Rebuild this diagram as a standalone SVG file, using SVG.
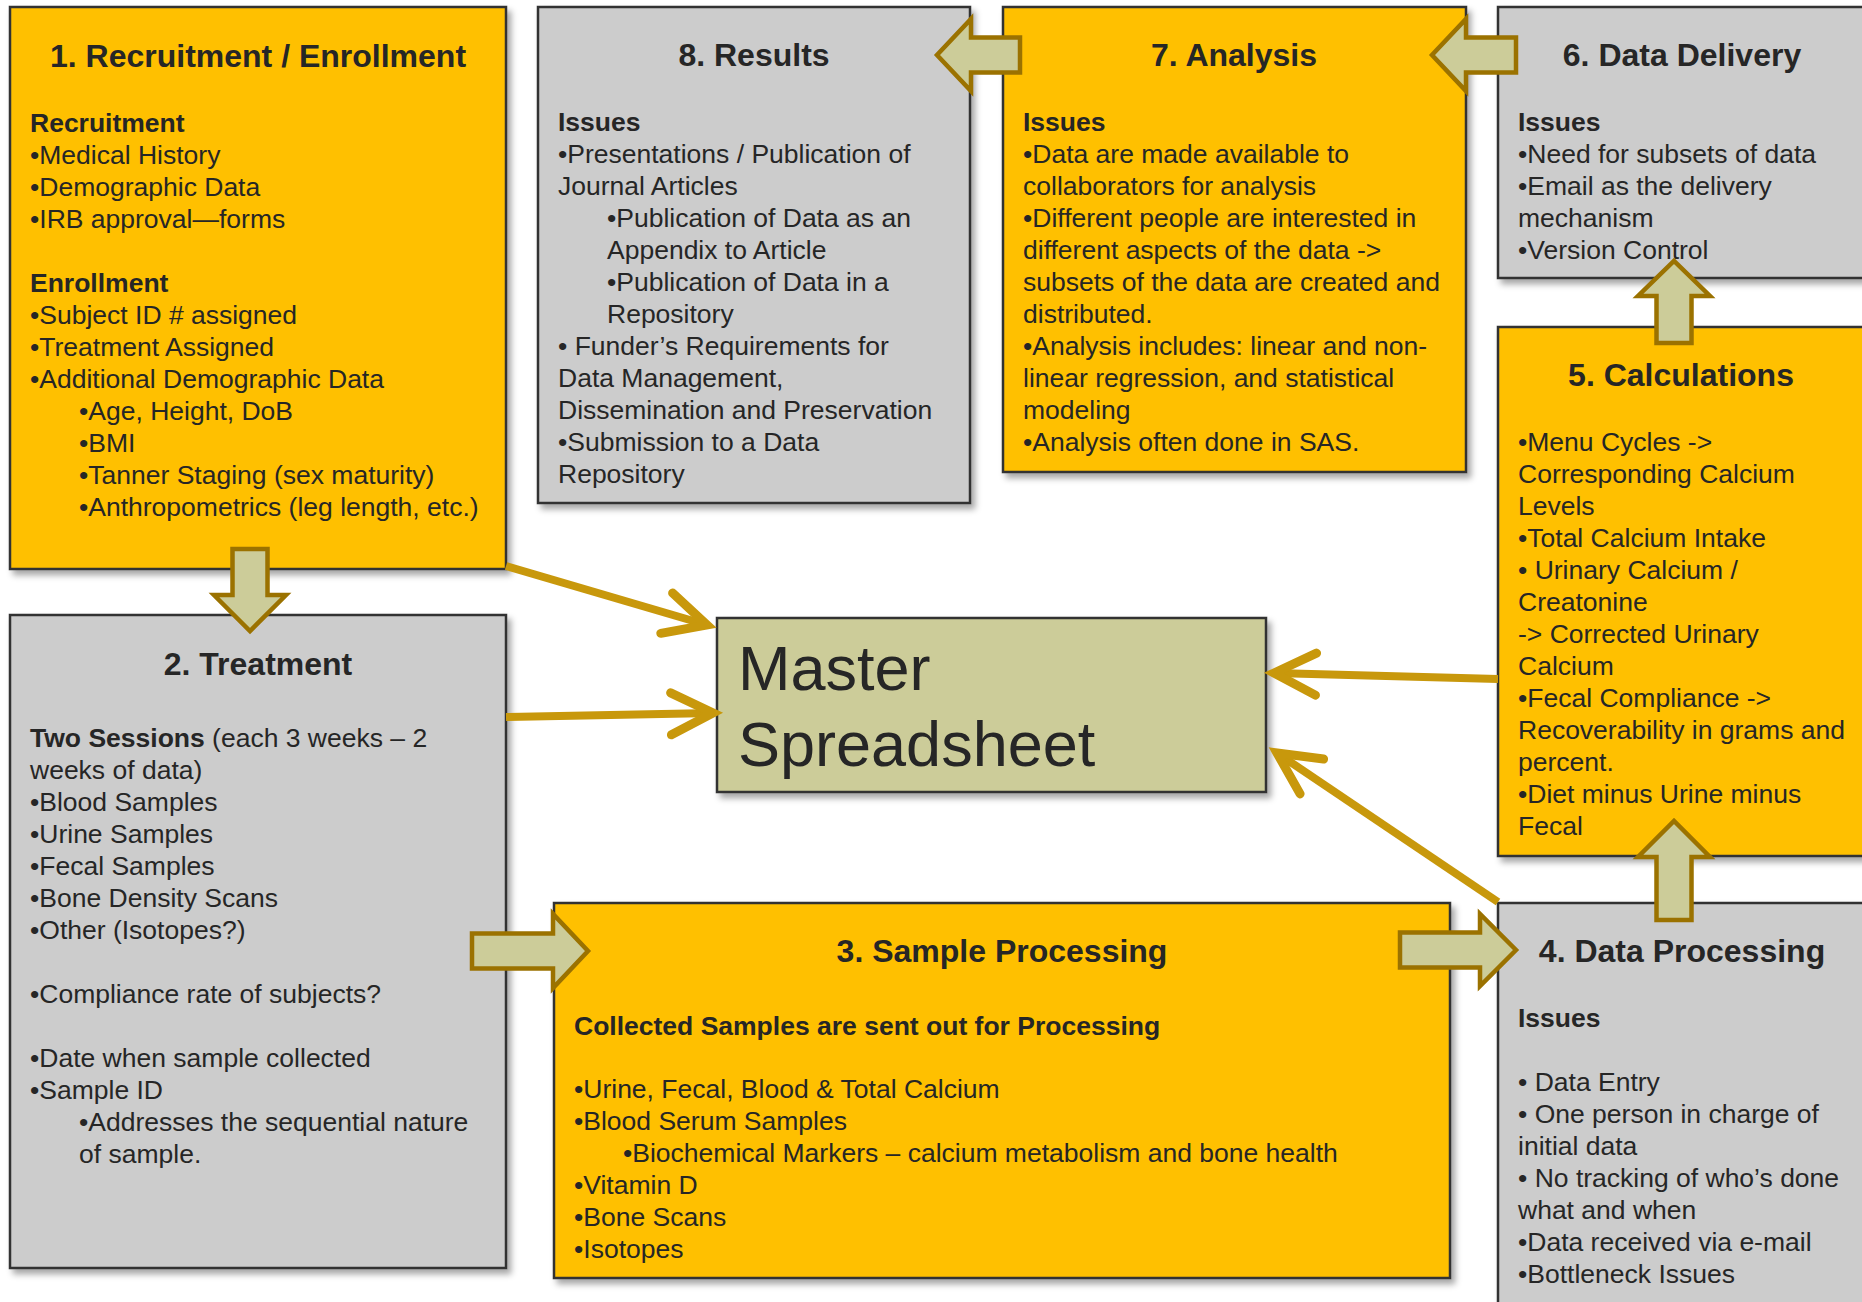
<svg xmlns="http://www.w3.org/2000/svg" width="1862" height="1302" viewBox="0 0 1862 1302">
<defs>
<filter id="sh" x="-5%" y="-5%" width="115%" height="115%">
<feDropShadow dx="4" dy="5" stdDeviation="3" flood-color="#000" flood-opacity="0.35"/>
</filter>
<marker id="chev" markerUnits="userSpaceOnUse" markerWidth="60" markerHeight="60" viewBox="-50 -30 60 60" refX="0" refY="0" orient="auto" overflow="visible">
<path d="M -42 -21 L 0 0 L -42 21" fill="none" stroke="#C8980C" stroke-width="9" stroke-linecap="round" stroke-linejoin="miter"/>
</marker>
</defs>
<style>
.bo{fill:#FFC000;stroke:#333;stroke-width:2.5}
.bg{fill:#CCCCCC;stroke:#333;stroke-width:2.5}
.bm{fill:#CCCC99;stroke:#333;stroke-width:2.5}
text{font-family:'Liberation Sans',Arial,sans-serif;fill:#262626}
.t{font-size:26.5px}
.b{font-weight:bold}
.ti{font-size:32px;font-weight:bold;text-anchor:middle}
.m{font-size:63px}
.ln{fill:none;stroke:#C8980C;stroke-width:8;marker-end:url(#chev)}
.ba{fill:#CCCC99;stroke:#9B7200;stroke-width:4.5;stroke-linejoin:miter}
</style>
<rect width="1862" height="1302" fill="#fff"/>

<g id="node1">
<rect class="bo" x="10" y="7" width="496" height="562" filter="url(#sh)"/>
<text class="ti" x="258" y="67">1. Recruitment / Enrollment</text>
<text class="t">
<tspan class="b" x="30" y="132">Recruitment</tspan>
<tspan x="30" y="164">•Medical History</tspan>
<tspan x="30" y="196">•Demographic Data</tspan>
<tspan x="30" y="228">•IRB approval—forms</tspan>
<tspan class="b" x="30" y="292">Enrollment</tspan>
<tspan x="30" y="324">•Subject ID # assigned</tspan>
<tspan x="30" y="356">•Treatment Assigned</tspan>
<tspan x="30" y="388">•Additional Demographic Data</tspan>
<tspan x="79" y="420">•Age, Height, DoB</tspan>
<tspan x="79" y="452">•BMI</tspan>
<tspan x="79" y="484">•Tanner Staging (sex maturity)</tspan>
<tspan x="79" y="516">•Anthropometrics (leg length, etc.)</tspan>
</text>
</g>

<g id="node8">
<rect class="bg" x="538" y="7" width="432" height="496" filter="url(#sh)"/>
<text class="ti" x="754" y="66">8. Results</text>
<text class="t">
<tspan class="b" x="558" y="131">Issues</tspan>
<tspan x="558" y="163">•Presentations / Publication of</tspan>
<tspan x="558" y="195">Journal Articles</tspan>
<tspan x="607" y="227">•Publication of Data as an</tspan>
<tspan x="607" y="259">Appendix to Article</tspan>
<tspan x="607" y="291">•Publication of Data in a</tspan>
<tspan x="607" y="323">Repository</tspan>
<tspan x="558" y="355">• Funder’s Requirements for</tspan>
<tspan x="558" y="387">Data Management,</tspan>
<tspan x="558" y="419">Dissemination and Preservation</tspan>
<tspan x="558" y="451">•Submission to a Data</tspan>
<tspan x="558" y="483">Repository</tspan>
</text>
</g>

<g id="node7">
<rect class="bo" x="1003" y="7" width="463" height="465" filter="url(#sh)"/>
<text class="ti" x="1234" y="66">7. Analysis</text>
<text class="t">
<tspan class="b" x="1023" y="131">Issues</tspan>
<tspan x="1023" y="163">•Data are made available to</tspan>
<tspan x="1023" y="195">collaborators for analysis</tspan>
<tspan x="1023" y="227">•Different people are interested in</tspan>
<tspan x="1023" y="259">different aspects of the data -&gt;</tspan>
<tspan x="1023" y="291">subsets of the data are created and</tspan>
<tspan x="1023" y="323">distributed.</tspan>
<tspan x="1023" y="355">•Analysis includes: linear and non-</tspan>
<tspan x="1023" y="387">linear regression, and statistical</tspan>
<tspan x="1023" y="419">modeling</tspan>
<tspan x="1023" y="451">•Analysis often done in SAS.</tspan>
</text>
</g>

<g id="node6">
<rect class="bg" x="1498" y="7" width="372" height="271" filter="url(#sh)"/>
<text class="ti" x="1682" y="66">6. Data Delivery</text>
<text class="t">
<tspan class="b" x="1518" y="131">Issues</tspan>
<tspan x="1518" y="163">•Need for subsets of data</tspan>
<tspan x="1518" y="195">•Email as the delivery</tspan>
<tspan x="1518" y="227">mechanism</tspan>
<tspan x="1518" y="259">•Version Control</tspan>
</text>
</g>

<g id="node5">
<rect class="bo" x="1498" y="327" width="372" height="529" filter="url(#sh)"/>
<text class="ti" x="1681" y="386">5. Calculations</text>
<text class="t">
<tspan x="1518" y="451">•Menu Cycles -&gt;</tspan>
<tspan x="1518" y="483">Corresponding Calcium</tspan>
<tspan x="1518" y="515">Levels</tspan>
<tspan x="1518" y="547">•Total Calcium Intake</tspan>
<tspan x="1518" y="579">• Urinary Calcium /</tspan>
<tspan x="1518" y="611">Creatonine</tspan>
<tspan x="1518" y="643">-&gt; Corrected Urinary</tspan>
<tspan x="1518" y="675">Calcium</tspan>
<tspan x="1518" y="707">•Fecal Compliance -&gt;</tspan>
<tspan x="1518" y="739">Recoverability in grams and</tspan>
<tspan x="1518" y="771">percent.</tspan>
<tspan x="1518" y="803">•Diet minus Urine minus</tspan>
<tspan x="1518" y="835">Fecal</tspan>
</text>
</g>

<g id="node2">
<rect class="bg" x="10" y="615" width="496" height="653" filter="url(#sh)"/>
<text class="ti" x="258" y="675">2. Treatment</text>
<text class="t">
<tspan x="30" y="747"><tspan class="b">Two Sessions</tspan> (each 3 weeks – 2</tspan>
<tspan x="30" y="779">weeks of data)</tspan>
<tspan x="30" y="811">•Blood Samples</tspan>
<tspan x="30" y="843">•Urine Samples</tspan>
<tspan x="30" y="875">•Fecal Samples</tspan>
<tspan x="30" y="907">•Bone Density Scans</tspan>
<tspan x="30" y="939">•Other (Isotopes?)</tspan>
<tspan x="30" y="1003">•Compliance rate of subjects?</tspan>
<tspan x="30" y="1067">•Date when sample collected</tspan>
<tspan x="30" y="1099">•Sample ID</tspan>
<tspan x="79" y="1131">•Addresses the sequential nature</tspan>
<tspan x="79" y="1163">of sample.</tspan>
</text>
</g>

<g id="master">
<rect class="bm" x="717" y="618" width="549" height="174" filter="url(#sh)"/>
<text class="m" x="738" y="690">Master</text>
<text class="m" x="738" y="766">Spreadsheet</text>
</g>

<g id="node3">
<rect class="bo" x="554" y="903" width="896" height="375" filter="url(#sh)"/>
<text class="ti" x="1002" y="962">3. Sample Processing</text>
<text class="t">
<tspan class="b" x="574" y="1035">Collected Samples are sent out for Processing</tspan>
<tspan x="574" y="1098">•Urine, Fecal, Blood &amp; Total Calcium</tspan>
<tspan x="574" y="1130">•Blood Serum Samples</tspan>
<tspan x="623" y="1162">•Biochemical Markers – calcium metabolism and bone health</tspan>
<tspan x="574" y="1194">•Vitamin D</tspan>
<tspan x="574" y="1226">•Bone Scans</tspan>
<tspan x="574" y="1258">•Isotopes</tspan>
</text>
</g>

<g id="node4">
<rect class="bg" x="1498" y="903" width="372" height="420" filter="url(#sh)"/>
<text class="ti" x="1682" y="962">4. Data Processing</text>
<text class="t">
<tspan class="b" x="1518" y="1027">Issues</tspan>
<tspan x="1518" y="1091">• Data Entry</tspan>
<tspan x="1518" y="1123">• One person in charge of</tspan>
<tspan x="1518" y="1155">initial data</tspan>
<tspan x="1518" y="1187">• No tracking of who’s done</tspan>
<tspan x="1518" y="1219">what and when</tspan>
<tspan x="1518" y="1251">•Data received via e-mail</tspan>
<tspan x="1518" y="1283">•Bottleneck Issues</tspan>
</text>
</g>

<g id="connectors">
<line class="ln" x1="506" y1="566" x2="707" y2="625"/>
<line class="ln" x1="506" y1="717" x2="713" y2="713"/>
<line class="ln" x1="1498" y1="679" x2="1274" y2="673"/>
<line class="ln" x1="1498" y1="902" x2="1277" y2="753"/>
<polygon class="ba" points="232.5,549 267.5,549 267.5,595 286,595 250,631 214,595 232.5,595"/>
<polygon class="ba" points="472,933.5 553,933.5 553,914 588,951 553,988 553,968.5 472,968.5"/>
<polygon class="ba" points="1400,932.5 1480,932.5 1480,914 1516,950 1480,986 1480,967.5 1400,967.5"/>
<polygon class="ba" points="1656.5,920 1656.5,857 1638,857 1674,821 1710,857 1691.5,857 1691.5,920"/>
<polygon class="ba" points="1656.5,343 1656.5,296 1638,296 1674,261 1710,296 1691.5,296 1691.5,343"/>
<polygon class="ba" points="1516,37.5 1466,37.5 1466,19 1432,55 1466,91 1466,72.5 1516,72.5"/>
<polygon class="ba" points="1020,37.5 971,37.5 971,19 937,55 971,91 971,72.5 1020,72.5"/>
</g>
</svg>
